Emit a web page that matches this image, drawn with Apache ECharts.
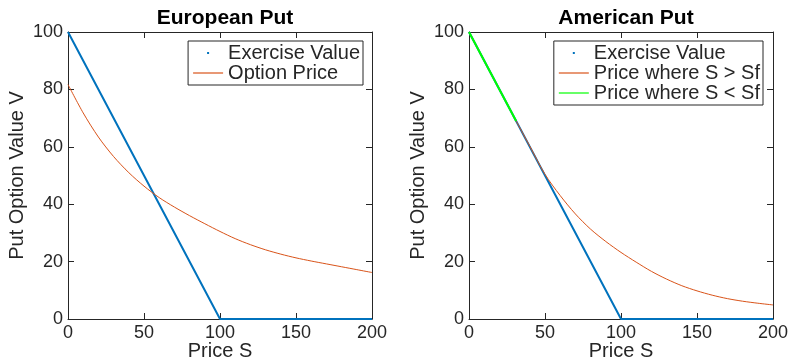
<!DOCTYPE html>
<html>
<head>
<meta charset="utf-8">
<script src="https://cdn.jsdelivr.net/npm/echarts@6/dist/echarts.min.js"></script>
<style>
  html, body { margin: 0; padding: 0; background: #fff; }
  #chart { width: 789px; height: 360px; }
</style>
</head>
<body>
<div id="chart"></div>
<script>
// tick labels
var xTicks = [0, 50, 100, 150, 200];
var yTicks = [0, 20, 40, 60, 80, 100];

// exercise value max(K - S, 0), K = 100
var exerciseS = [0, 100, 200];
var exerciseV = [100, 0, 0];

// european put
var euroS = [0, 10, 20, 30, 40, 50, 60, 70, 80, 90, 100, 110, 120, 130, 140, 150, 160, 170, 180, 190, 200];
var euroV = [81.7, 71.8, 63.4, 56.6, 51.0, 46.3, 42.3, 39.0, 36.0, 33.2, 30.5, 28.0, 25.9, 24.1, 22.6, 21.3, 20.2, 19.2, 18.2, 17.2, 16.2];

// american put, S > Sf part
var amerS = [31, 40, 50, 60, 70, 80, 90, 100, 110, 120, 130, 140, 150, 160, 170, 180, 190, 200];
var amerV = [69.0, 60.2, 50.4, 43.0, 36.6, 31.3, 27.0, 23.2, 19.8, 16.6, 13.9, 11.6, 9.8, 8.3, 7.1, 6.2, 5.5, 4.9];

// american put, S < Sf part (early exercise)
var earlyS = [0, 31];
var earlyV = [100, 69];

var BLUE = '#0072BD', ORANGE = '#D95319', GREEN = '#00FF00', INK = '#262626';
var FONT = 'Liberation Sans, Arial, Helvetica, sans-serif';

function pairs(xs, ys) {
    return xs.map(function (x, i) { return [x, ys[i]]; });
}

var grids = [
    { left: 68, top: 32, width: 304, height: 287, outerBoundsMode: 'none', containLabel: false },
    { left: 469, top: 32, width: 304, height: 287, outerBoundsMode: 'none', containLabel: false }
];

function xAxes(g) {
    var base = {
        type: 'value', gridIndex: g, min: xTicks[0], max: xTicks[xTicks.length - 1], interval: 50,
        splitLine: { show: false },
        axisLine: { onZero: false, lineStyle: { color: INK, width: 1 } },
        axisTick: { inside: true, length: 6, lineStyle: { color: INK } }
    };
    var bottom = Object.assign({}, base, {
        position: 'bottom',
        name: 'Price S', nameLocation: 'middle', nameGap: 22, nameMoveOverlap: false,
        nameTextStyle: { fontSize: 20, color: INK, fontFamily: FONT },
        axisLabel: { margin: 5, fontSize: 18, color: INK, fontFamily: FONT }
    });
    var top = Object.assign({}, base, { position: 'top', axisLabel: { show: false } });
    return [bottom, top];
}

function yAxes(g) {
    var base = {
        type: 'value', gridIndex: g, min: yTicks[0], max: yTicks[yTicks.length - 1], interval: 20,
        splitLine: { show: false },
        axisLine: { onZero: false, lineStyle: { color: INK, width: 1 } },
        axisTick: { inside: true, length: 6, lineStyle: { color: INK } }
    };
    var left = Object.assign({}, base, {
        position: 'left',
        name: 'Put Option Value V', nameLocation: 'middle', nameGap: 41, nameMoveOverlap: false,
        nameTextStyle: { fontSize: 20, color: INK, fontFamily: FONT },
        axisLabel: { margin: 5, fontSize: 18, color: INK, fontFamily: FONT }
    });
    var right = Object.assign({}, base, { position: 'right', axisLabel: { show: false } });
    return [left, right];
}

// icons sized to the whole legend cell so nothing gets stretched
var dotIcon = 'path://M0,0M30,14M14,6h2v2h-2z';
var lineIcon = 'path://M0,0M30,14M0,6.4h30v1.2h-30z';

function legend(names, colors, icons, right) {
    return {
        orient: 'vertical', right: right, top: 41,
        itemWidth: 30, itemHeight: 14, itemGap: 0,
        padding: [2, 3, 2, 5],
        borderColor: INK, borderWidth: 1, backgroundColor: '#fff',
        textStyle: { fontSize: 20, lineHeight: 19, color: INK, fontFamily: FONT },
        data: names.map(function (n, i) {
            return { name: n, icon: icons[i], itemStyle: { color: colors[i], borderWidth: 0 } };
        })
    };
}

function line(name, data, xi, yi, color, width, z) {
    return {
        name: name, type: 'line', data: data, xAxisIndex: xi, yAxisIndex: yi,
        showSymbol: false, symbol: 'none', smooth: data.length > 3 ? 0.3 : false,
        lineStyle: { color: color, width: width }, itemStyle: { color: color },
        animation: false, z: z
    };
}

var chart = echarts.init(document.getElementById('chart'));
chart.setOption({
    backgroundColor: '#fff',
    animation: false,
    title: [
        { text: 'European Put', left: 220, top: 3, textAlign: 'center',
          textStyle: { fontSize: 21, fontWeight: 'bold', color: '#000', fontFamily: FONT } },
        { text: 'American Put', left: 621, top: 3, textAlign: 'center',
          textStyle: { fontSize: 21, fontWeight: 'bold', color: '#000', fontFamily: FONT } }
    ],
    legend: [
        legend(['Exercise Value', 'Option Price'], [BLUE, ORANGE], [dotIcon, lineIcon], 426),
        legend(['Exercise Value ', 'Price where S > Sf', 'Price where S < Sf'],
            [BLUE, ORANGE, GREEN], [dotIcon, lineIcon, lineIcon], 26)
    ],
    grid: grids,
    xAxis: xAxes(0).concat(xAxes(1)),
    yAxis: yAxes(0).concat(yAxes(1)),
    series: [
        line('Exercise Value', pairs(exerciseS, exerciseV), 0, 0, BLUE, 2, 3),
        line('Option Price', pairs(euroS, euroV), 0, 0, ORANGE, 1, 4),
        line('Exercise Value ', pairs(exerciseS, exerciseV), 2, 2, BLUE, 2, 3),
        line('Price where S > Sf', pairs(amerS, amerV), 2, 2, ORANGE, 1, 4),
        line('Price where S < Sf', pairs(earlyS, earlyV), 2, 2, GREEN, 2, 5)
    ]
});
</script>
</body>
</html>
